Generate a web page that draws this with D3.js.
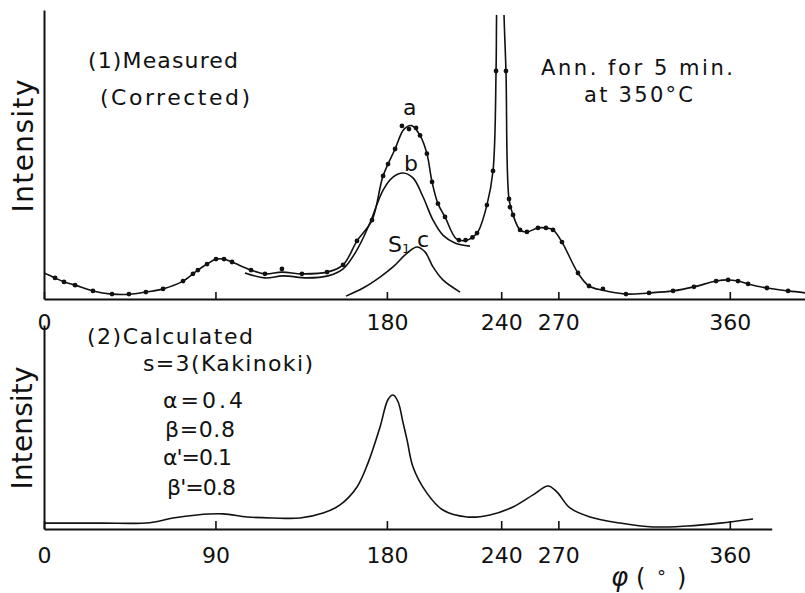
<!DOCTYPE html>
<html>
<head>
<meta charset="utf-8">
<script src="https://cdn.jsdelivr.net/npm/d3@7"></script>
<style>
  html, body { margin: 0; padding: 0; background: #fff; }
  svg { display: block; }
  text { font-family: "DejaVu Sans", sans-serif; fill: #111; }
</style>
</head>
<body>
<svg id="chart" width="805" height="593"></svg>
<script>
// ---------- data (φ in degrees, intensity in arbitrary units) ----------
const measuredCurve = [
  [0,9.0],[5.8,7.3],[10.5,5.9],[16.3,4.8],[25.7,2.8],[35.7,1.7],[44.6,1.6],[53.5,2.4],
  [62.5,3.5],[73.0,6.2],[78.2,8.7],[80.8,10.0],[85.6,12.1],[90.3,13.8],[94.5,13.8],
  [98.7,12.8],[108.7,10.0],[116.0,8.7],[125,9.3],[135.4,8.7],[148.6,9.3],[157.0,11.8],
  [164.3,20.1],[172.2,27.3],[178.0,42.6],[184.3,51.9],[189.0,58.8],
  [193.0,60.0],[197.4,56.6],[201.0,50.3],[203.7,40.5],[206.8,33.0],[210.5,28.4],
  [216.5,20.8],[221.3,20.2],[224.9,21.3],[228.0,23.5],[232.5,32.5],[235.7,44.3],
  [237.3,78.9],[237.6,100],[239.4,170],[241.4,100],[242.5,78.9],[244.1,34.6],
  [246.2,29.1],[249.9,23.9],[253.5,23.2],[259.3,24.6],[263.5,24.6],
  [267.2,23.9],[271.9,19.7],[280.3,9.0],[286.1,4.5],[293.4,3.0],[305.5,1.7],
  [317.6,2.1],[330.2,2.8],[341.2,4.2],[352.8,6.2],[359.1,6.6],[364.3,6.2],
  [369.6,5.2],[379.5,3.8],[390.6,2.8],[400,2.1]
];
const measuredDots = [
  [5.8,7.3],[10.5,5.9],[16.3,4.8],[25.7,2.8],[35.7,1.7],[44.6,1.7],[53.5,2.4],[62.5,3.5],
  [73.0,6.2],[78.2,8.7],[80.8,10.0],[85.6,12.1],[90.3,13.8],[94.5,13.8],[98.7,12.8],
  [108.7,10.0],[116.0,8.7],[124.9,10.4],[135.4,8.7],[148.6,9.3],[157.0,11.8],[164.3,20.1],
  [172.2,27.3],[178.0,42.6],[180.6,46.7],[184.3,51.9],[187.9,59.9],[191.6,58.8],
  [195.3,59.2],[197.4,56.6],[201.0,50.3],[203.7,40.5],[206.8,33.0],[210.5,28.4],
  [217.8,20.4],[221.3,20.4],[224.9,21.3],[227.3,22.8],[232.5,32.5],[235.7,44.3],
  [237.3,78.9],[242.5,78.9],[244.1,34.6],[244.6,31.8],[246.2,29.1],[249.9,23.9],
  [253.5,23.2],[259.3,24.6],[263.5,24.6],[267.2,23.9],[271.9,19.7],[280.3,9.0],
  [286.1,4.5],[293.4,3.5],[305.5,1.7],[317.6,2.1],[330.2,2.8],[341.2,4.2],[352.8,6.2],
  [359.1,6.6],[364.3,6.2],[369.6,5.2],[379.5,3.8],[390.6,2.8]
];
const curveB = [
  [105.5,9.0],[116.0,7.3],[125.5,8.0],[138.1,7.3],[149.1,8.0],[157.0,10.4],[164.3,17.0],
  [171.1,26.3],[178.0,37.7],[183.2,42.2],[188.5,43.6],[193.7,41.9],[199.0,35.3],
  [204.2,27.3],[209.4,22.1],[215.7,19.4],[223.6,18.3]
];
const curveC = [
  [158.5,1.0],[167.5,3.8],[176.4,7.6],[183.2,11.1],[190.6,15.9],[195.8,18.0],
  [200.0,16.3],[204.2,11.1],[209.4,6.6],[218.4,2.4]
];
const calculated = [
  [0,2.9],[30,2.9],[55.6,3.1],[67.7,5.4],[80.3,6.9],[94.0,7.4],[106.6,5.9],[120.2,5.4],
  [134.4,5.4],[146.5,7.8],[155.4,11.8],[164.3,20.6],[170.1,32.4],[176.4,50.0],
  [180.6,63.5],[183.2,65.7],[185.8,62.5],[188.5,52.0],[190.6,43.6],[193.7,30.4],[201.0,17.6],
  [209.4,9.3],[222.0,5.9],[234.1,6.9],[246.2,10.8],[256.7,16.7],[264.6,21.1],
  [269.3,18.1],[276.1,10.3],[286.6,5.9],[302.4,2.9],[319.7,1.0],[337.5,1.5],
  [354.9,2.9],[372.2,4.9]
];
const topTicks = [0, 90, 180, 240, 270, 360];
const topTickLabels = ["0", "", "180", "240", "270", "360"];
const bottomTicks = [0, 90, 180, 240, 270, 360];
const bottomTickLabels = ["0", "90", "180", "240", "270", "360"];

// ---------- layout ----------
const svg = d3.select("#chart");
const xTop = d3.scaleLinear().domain([0, 400]).range([44, 806]);
const xBot = d3.scaleLinear().domain([0, 382]).range([44, 44 + 382 * (762 / 400)]);
const yTop = d3.scaleLinear().domain([0, 100]).range([299, 10]);
const yBot = d3.scaleLinear().domain([0, 100]).range([529, 325]);

svg.append("defs").append("clipPath").attr("id", "clipTop")
  .append("rect").attr("x", 44).attr("y", 15).attr("width", 762).attr("height", 284);

const makeLine = (xs, ys) => d3.line().x(d => xs(d[0])).y(d => ys(d[1]))
  .curve(d3.curveCatmullRom.alpha(0.5));

// ---------- axes ----------
function styleAxis(g) {
  g.select(".domain").attr("stroke", "#111").attr("stroke-width", 2);
  g.selectAll(".tick line").attr("stroke", "#111").attr("stroke-width", 1.6);
  g.selectAll(".tick text").attr("font-size", 22).attr("fill", "#111")
    .style("font-family", "DejaVu Sans, sans-serif");
}
svg.append("g").attr("transform", "translate(0,299)")
  .call(d3.axisBottom(xTop).tickValues(topTicks)
    .tickFormat((d, i) => topTickLabels[i]).tickSizeInner(-7).tickSizeOuter(0).tickPadding(15))
  .call(styleAxis);
svg.append("g").attr("transform", "translate(44,0)")
  .call(d3.axisLeft(yTop).tickValues([]).tickSizeOuter(0)).call(styleAxis);

svg.append("g").attr("transform", "translate(0,529)")
  .call(d3.axisBottom(xBot).tickValues(bottomTicks)
    .tickFormat((d, i) => bottomTickLabels[i]).tickSizeInner(-8).tickSizeOuter(0).tickPadding(18))
  .call(styleAxis);
svg.append("g").attr("transform", "translate(44,0)")
  .call(d3.axisLeft(yBot).tickValues([]).tickSizeOuter(0)).call(styleAxis);

// ---------- top panel curves ----------
const topPanel = svg.append("g").attr("clip-path", "url(#clipTop)");
topPanel.append("path").datum(measuredCurve).attr("d", makeLine(xTop, yTop))
  .attr("fill", "none").attr("stroke", "#111").attr("stroke-width", 1.6);
topPanel.append("path").datum(curveB).attr("d", makeLine(xTop, yTop))
  .attr("fill", "none").attr("stroke", "#111").attr("stroke-width", 1.6);
topPanel.append("path").datum(curveC).attr("d", makeLine(xTop, yTop))
  .attr("fill", "none").attr("stroke", "#111").attr("stroke-width", 1.6);
topPanel.selectAll("circle").data(measuredDots).join("circle")
  .attr("cx", d => xTop(d[0])).attr("cy", d => yTop(d[1])).attr("r", 2.4).attr("fill", "#111");

// ---------- bottom panel curve ----------
svg.append("path").datum(calculated).attr("d", makeLine(xBot, yBot))
  .attr("fill", "none").attr("stroke", "#111").attr("stroke-width", 1.6);

// ---------- texts ----------
function txt(x, y, s, size, len) {
  const t = svg.append("text").attr("x", x).attr("y", y).attr("font-size", size).text(s);
  if (len) t.attr("textLength", len).attr("lengthAdjust", "spacing");
  return t;
}
svg.append("text").attr("transform", "translate(33,146) rotate(-90)")
  .attr("text-anchor", "middle").attr("font-size", 28)
  .attr("textLength", 133).attr("lengthAdjust", "spacing").text("Intensity");
svg.append("text").attr("transform", "translate(32,428) rotate(-90)")
  .attr("text-anchor", "middle").attr("font-size", 28)
  .attr("textLength", 123).attr("lengthAdjust", "spacing").text("Intensity");

txt(88, 68, "(1)Measured", 22, 150);
txt(100, 105, "(Corrected)", 22, 150);
txt(541, 75, "Ann. for 5 min.", 21, 192);
txt(584, 102, "at 350°C", 21, 109);
txt(403, 115, "a", 22);
txt(404, 171, "b", 22);
const s1 = txt(388, 252, "S", 22);
s1.append("tspan").attr("font-size", 13).attr("dy", 1).text("1");
txt(417, 247, "c", 22);

txt(87, 344, "(2)Calculated", 22, 166);
txt(143, 371, "s=3(Kakinoki)", 22, 170);
txt(163, 408, "α=0.4", 22, 80);
txt(165, 437, "β=0.8", 22, 70);
txt(163, 465, "α'=0.1", 22, 69);
txt(167, 495, "β'=0.8", 22, 69);

const phi = svg.append("text").attr("x", 611).attr("y", 586).attr("font-size", 26);
phi.append("tspan").attr("font-style", "italic").text("φ");
phi.append("tspan").attr("x", 636).attr("font-size", 24).text("(");
phi.append("tspan").attr("x", 657).attr("dy", -3).attr("font-size", 18).text("°");
phi.append("tspan").attr("x", 677).attr("dy", 3).attr("font-size", 24).text(")");
</script>
</body>
</html>
